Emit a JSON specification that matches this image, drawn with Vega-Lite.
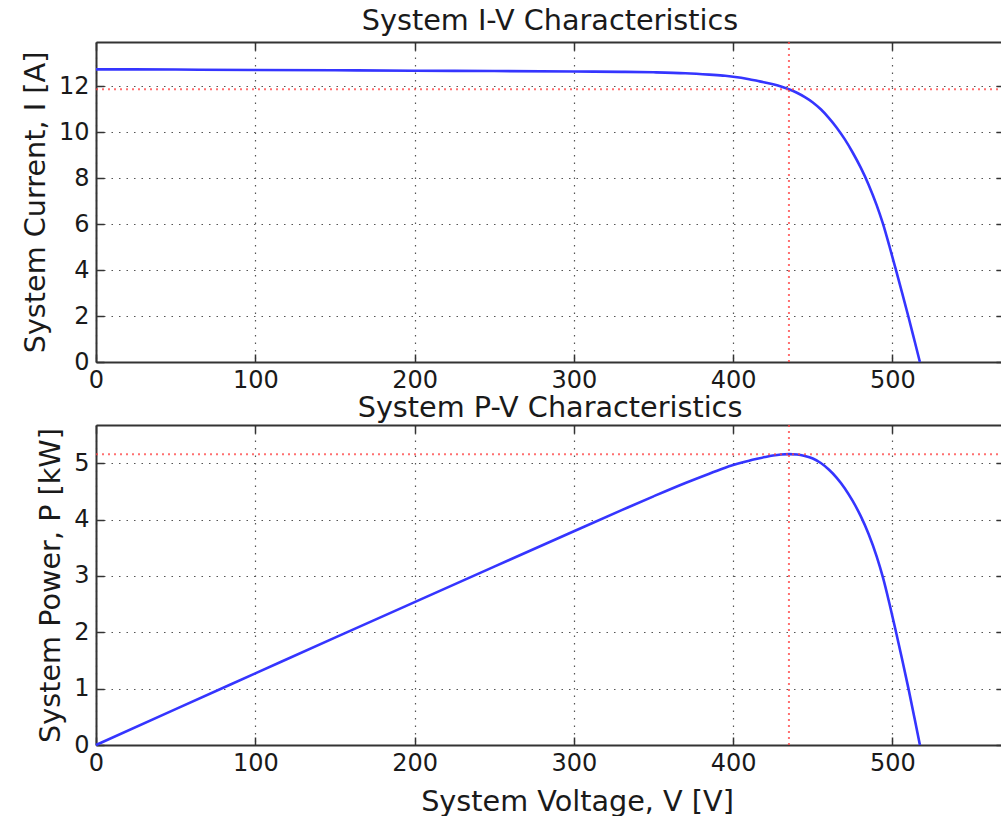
{
  "$schema": "https://vega.github.io/schema/vega-lite/v6.json",
  "background": "white",
  "padding": {"left": 21, "top": 7, "right": 0, "bottom": 0},
  "spacing": 2,
  "config": {
    "font": "DejaVu Sans",
    "view": {"stroke": null},
    "title": {"fontSize": 28.7, "fontWeight": "normal", "color": "#1a1a1a", "anchor": "middle", "baseline": "bottom"},
    "axis": {
      "labelFont": "DejaVu Sans",
      "labelFontSize": 24,
      "labelColor": "#1a1a1a",
      "labelFlush": false,
      "labelOverlap": false,
      "titleFont": "DejaVu Sans",
      "titleFontSize": 28.7,
      "titleFontWeight": "normal",
      "titleColor": "#1a1a1a",
      "domainColor": "#333333",
      "domainWidth": 2,
      "tickColor": "#333333",
      "tickWidth": 1.5,
      "tickSize": -8,
      "gridColor": "#555555",
      "gridWidth": 1.2,
      "gridDash": [1.5, 6]
    }
  },
  "datasets": {
    "curve": [
      {"V": 0, "I": 12.74, "P": 0},
      {"V": 50, "I": 12.73, "P": 0.637},
      {"V": 100, "I": 12.71, "P": 1.271},
      {"V": 150, "I": 12.70, "P": 1.905},
      {"V": 200, "I": 12.68, "P": 2.536},
      {"V": 250, "I": 12.665, "P": 3.166},
      {"V": 300, "I": 12.645, "P": 3.794},
      {"V": 330, "I": 12.63, "P": 4.168},
      {"V": 350, "I": 12.61, "P": 4.414},
      {"V": 370, "I": 12.57, "P": 4.651},
      {"V": 385, "I": 12.51, "P": 4.816},
      {"V": 395, "I": 12.46, "P": 4.922},
      {"V": 400, "I": 12.42, "P": 4.968},
      {"V": 405, "I": 12.37, "P": 5.010},
      {"V": 410, "I": 12.31, "P": 5.047},
      {"V": 415, "I": 12.24, "P": 5.080},
      {"V": 420, "I": 12.17, "P": 5.111},
      {"V": 425, "I": 12.09, "P": 5.138},
      {"V": 430, "I": 11.99, "P": 5.156},
      {"V": 435, "I": 11.87, "P": 5.163},
      {"V": 440, "I": 11.72, "P": 5.157},
      {"V": 445, "I": 11.53, "P": 5.131},
      {"V": 450, "I": 11.30, "P": 5.085},
      {"V": 455, "I": 11.00, "P": 5.005},
      {"V": 460, "I": 10.63, "P": 4.890},
      {"V": 465, "I": 10.20, "P": 4.743},
      {"V": 470, "I": 9.70, "P": 4.559},
      {"V": 475, "I": 9.12, "P": 4.332},
      {"V": 480, "I": 8.47, "P": 4.066},
      {"V": 485, "I": 7.72, "P": 3.744},
      {"V": 490, "I": 6.84, "P": 3.352},
      {"V": 494, "I": 6.02, "P": 2.974},
      {"V": 498, "I": 5.06, "P": 2.520},
      {"V": 502, "I": 4.05, "P": 2.033},
      {"V": 506, "I": 3.02, "P": 1.528},
      {"V": 510, "I": 1.97, "P": 1.005},
      {"V": 514, "I": 0.88, "P": 0.452},
      {"V": 517.2, "I": 0, "P": 0}
    ],
    "mpp": [
      {"V": 435, "I": 11.87, "P": 5.163}
    ]
  },
  "vconcat": [
    {
      "title": {"text": "System I-V Characteristics", "offset": 5},
      "width": 908,
      "height": 320,
      "resolve": {"axis": {"x": "independent", "y": "independent"}},
      "layer": [
        {
          "data": {"name": "curve"},
          "mark": {"type": "line", "color": "#3535ff", "strokeWidth": 2.6, "interpolate": "monotone"},
          "encoding": {
            "x": {"field": "V", "type": "quantitative", "scale": {"domain": [0, 570], "nice": false},
                  "axis": {"orient": "bottom", "values": [0, 100, 200, 300, 400, 500], "grid": true, "title": null, "labelPadding": 14}},
            "y": {"field": "I", "type": "quantitative", "scale": {"domain": [0, 13.93], "nice": false},
                  "axis": {"orient": "left", "values": [0, 2, 4, 6, 8, 10, 12], "grid": true, "title": "System Current, I [A]", "labelPadding": 15, "labelBaseline": "middle", "titlePadding": 8}}
          }
        },
        {
          "data": {"name": "mpp"},
          "mark": {"type": "rule", "color": "#ff4040", "strokeWidth": 2, "strokeDash": [2, 4], "opacity": 0.75},
          "encoding": {
            "x": {"field": "V", "type": "quantitative", "scale": {"domain": [0, 570], "nice": false},
                  "axis": {"orient": "top", "values": [0, 100, 200, 300, 400, 500], "grid": false, "labels": false, "title": null}}
          }
        },
        {
          "data": {"name": "mpp"},
          "mark": {"type": "rule", "color": "#ff4040", "strokeWidth": 2, "strokeDash": [2, 4], "opacity": 0.75},
          "encoding": {
            "y": {"field": "I", "type": "quantitative", "scale": {"domain": [0, 13.93], "nice": false},
                  "axis": {"orient": "right", "values": [0, 2, 4, 6, 8, 10, 12], "grid": false, "labels": false, "domain": false, "title": null}}
          }
        }
      ]
    },
    {
      "title": {"text": "System P-V Characteristics", "offset": 1},
      "width": 908,
      "height": 320,
      "resolve": {"axis": {"x": "independent", "y": "independent"}},
      "layer": [
        {
          "data": {"name": "curve"},
          "mark": {"type": "line", "color": "#3535ff", "strokeWidth": 2.6, "interpolate": "monotone"},
          "encoding": {
            "x": {"field": "V", "type": "quantitative", "scale": {"domain": [0, 570], "nice": false},
                  "axis": {"orient": "bottom", "values": [0, 100, 200, 300, 400, 500], "grid": true, "title": "System Voltage, V [V]", "titleX": 481, "labelPadding": 14, "titlePadding": 12}},
            "y": {"field": "P", "type": "quantitative", "scale": {"domain": [0, 5.68], "nice": false},
                  "axis": {"orient": "left", "values": [0, 1, 2, 3, 4, 5], "grid": true, "title": "System Power, P [kW]", "labelPadding": 15, "labelBaseline": "middle", "titlePadding": 8}}
          }
        },
        {
          "data": {"name": "mpp"},
          "mark": {"type": "rule", "color": "#ff4040", "strokeWidth": 2, "strokeDash": [2, 4], "opacity": 0.75},
          "encoding": {
            "x": {"field": "V", "type": "quantitative", "scale": {"domain": [0, 570], "nice": false},
                  "axis": {"orient": "top", "values": [0, 100, 200, 300, 400, 500], "grid": false, "labels": false, "title": null}}
          }
        },
        {
          "data": {"name": "mpp"},
          "mark": {"type": "rule", "color": "#ff4040", "strokeWidth": 2, "strokeDash": [2, 4], "opacity": 0.75},
          "encoding": {
            "y": {"field": "P", "type": "quantitative", "scale": {"domain": [0, 5.68], "nice": false},
                  "axis": {"orient": "right", "values": [0, 1, 2, 3, 4, 5], "grid": false, "labels": false, "domain": false, "title": null}}
          }
        }
      ]
    }
  ]
}
